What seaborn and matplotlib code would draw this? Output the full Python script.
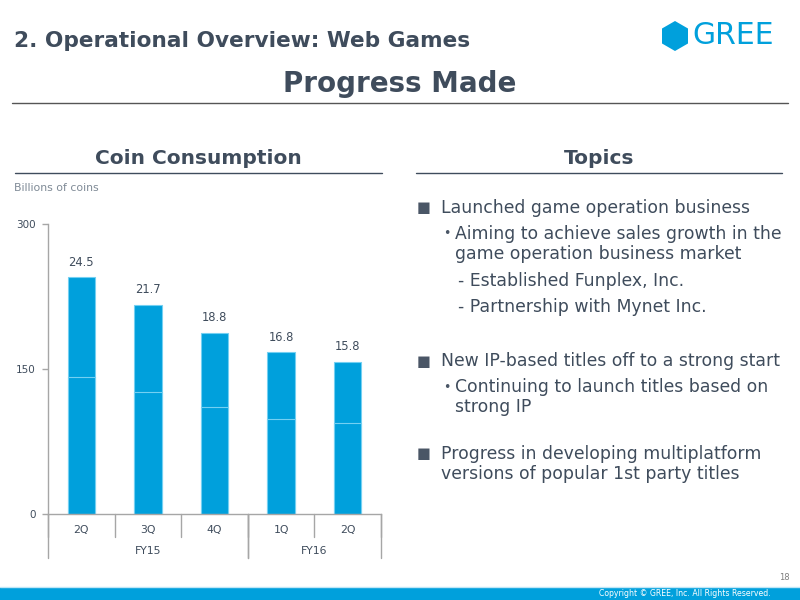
import matplotlib
matplotlib.use("Agg")
import matplotlib.pyplot as plt
from matplotlib.lines import Line2D
from matplotlib.patches import Polygon, Rectangle
import numpy as np
import pandas as pd
import seaborn as sns

# Coin consumption, in units of 100 million coins (axis 0-300)
quarters = ["2Q", "3Q", "4Q", "1Q", "2Q"]
fiscal_years = ["FY15", "FY15", "FY15", "FY16", "FY16"]
totals = [245, 217, 188, 168, 158]
lower_part = [142, 127, 111, 99, 94]
value_labels = ["24.5", "21.7", "18.8", "16.8", "15.8"]
y_ticks = [0, 150, 300]

topic_lines = [
    ("\u25a0", "Launched game operation business", 0, 208),
    ("\u2022", "Aiming to achieve sales growth in the", 1, 234),
    ("", "game operation business market", 1, 254),
    ("", "- Established Funplex, Inc.", 2, 281),
    ("", "- Partnership with Mynet Inc.", 2, 307),
    ("\u25a0", "New IP-based titles off to a strong start", 0, 361),
    ("\u2022", "Continuing to launch titles based on", 1, 387),
    ("", "strong IP", 1, 407),
    ("\u25a0", "Progress in developing multiplatform", 0, 454),
    ("", "versions of popular 1st party titles", 0, 474),
]

BLUE = "#00a0dc"
EDGE = "#74d0f2"
TEXT = "#3f4c5c"
AXIS = "#a6a6a6"

df = pd.DataFrame({
    "period": [f"{fy} {q}" for fy, q in zip(fiscal_years, quarters)],
    "total": totals,
    "lower": lower_part,
})

sns.set_theme(style="white")
plt.rcParams["font.family"] = ["DejaVu Sans"]


def fx(px):
    return px / 800


def fy(py):
    return 1 - py / 600


fig = plt.figure(figsize=(8, 6), dpi=100)
fig.patch.set_facecolor("white")
ax = fig.add_axes([fx(48), fy(514.3), (381 - 48) / 800, (514.3 - 224.3) / 600])

sns.barplot(data=df, x="period", y="total", color=BLUE, saturation=1, width=0.41,
            edgecolor=EDGE, linewidth=0.8, ax=ax)
sns.barplot(data=df, x="period", y="lower", color=BLUE, saturation=1, width=0.41,
            edgecolor=EDGE, linewidth=0.8, ax=ax)
ax.bar_label(ax.containers[0], labels=value_labels, padding=6, fontsize=8.3, color=TEXT)

ax.set_xlim(-0.5, len(quarters) - 0.5)
ax.set_ylim(0, 300)
ax.set_yticks(y_ticks)
ax.set_xticks(range(len(quarters)), quarters)
ax.set_xlabel("")
ax.set_ylabel("")
ax.tick_params(axis="y", left=True, length=4, width=1, color=AXIS, labelcolor=TEXT,
               labelsize=7.5, pad=5)
ax.tick_params(axis="x", length=0, labelcolor=TEXT, labelsize=7.8, pad=8)
sns.despine(ax=ax)
for side in ["left", "bottom"]:
    ax.spines[side].set_color(AXIS)
    ax.spines[side].set_linewidth(1)

# category separators below the axis
trans = ax.get_xaxis_transform()
n = len(quarters)
for i in range(n + 1):
    ax.plot([i - 0.5, i - 0.5], [0, -22.5 / 290], color=AXIS, lw=1, transform=trans, clip_on=False)
groups = pd.Series(range(n)).groupby(pd.Series(fiscal_years), sort=False)
for fy_name, idx in groups:
    lo, hi = idx.min() - 0.5, idx.max() + 0.5
    for xb in (lo, hi):
        ax.plot([xb, xb], [0, -44 / 290], color=AXIS, lw=1, transform=trans, clip_on=False)
    ax.text((lo + hi) / 2, -37 / 290, fy_name, transform=trans, ha="center", va="center",
            fontsize=7.8, color=TEXT)

# header
fig.text(fx(14), fy(41), "2. Operational Overview: Web Games", fontsize=15.6,
         fontweight="bold", color=TEXT, ha="left", va="center")
fig.text(0.5, fy(84), "Progress Made", fontsize=20, fontweight="bold", color=TEXT,
         ha="center", va="center")
fig.add_artist(Line2D([fx(12), fx(788)], [fy(103), fy(103)], color="#555555", lw=1))

# logo
cx, cy, r = 675 / 100, (600 - 36) / 100, 15 / 100
angles = np.deg2rad(90 + 60 * np.arange(6))
hexagon = Polygon(np.column_stack([cx + r * np.cos(angles), cy + r * np.sin(angles)]),
                  closed=True, facecolor=BLUE, edgecolor="none",
                  transform=fig.dpi_scale_trans)
fig.add_artist(hexagon)
fig.text(fx(692), fy(36), "GREE", fontsize=21.5, color=BLUE, ha="left", va="center")

# section headers
fig.text(fx(198), fy(158), "Coin Consumption", fontsize=14.5, fontweight="bold",
         color=TEXT, ha="center", va="center")
fig.text(fx(599), fy(158), "Topics", fontsize=14.5, fontweight="bold",
         color=TEXT, ha="center", va="center")
fig.add_artist(Line2D([fx(15), fx(382)], [fy(173), fy(173)], color=TEXT, lw=1))
fig.add_artist(Line2D([fx(416), fx(782)], [fy(173), fy(173)], color=TEXT, lw=1))
fig.text(fx(14), fy(188), "Billions of coins", fontsize=7.8, color="#7f8a96",
         ha="left", va="center")

# topics
text_x = {0: 441, 1: 455, 2: 458}
marker_x = {"\u25a0": 417, "\u2022": 443}
for marker, line, level, ypx in topic_lines:
    if marker:
        fig.text(fx(marker_x[marker]), fy(ypx), marker,
                 fontsize=10.5 if marker == "\u25a0" else 9, color="#4a5666",
                 ha="left", va="center")
    fig.text(fx(text_x[level]), fy(ypx), line, fontsize=12.4, color=TEXT,
             ha="left", va="center")

# footer
fig.add_artist(Rectangle((0, 0), 1, 13 / 600, transform=fig.transFigure,
                         facecolor=BLUE, edgecolor="none"))
fig.add_artist(Line2D([0, 1], [fy(586.5), fy(586.5)], color="#bfe6f6", lw=1))
fig.text(fx(771), fy(593.5), "Copyright \u00a9 GREE, Inc. All Rights Reserved.",
         fontsize=5.6, color="white", ha="right", va="center")
fig.text(fx(790), fy(577), "18", fontsize=6, color="#7f7f7f", ha="right", va="center")

fig.savefig("out.png", dpi=100)
